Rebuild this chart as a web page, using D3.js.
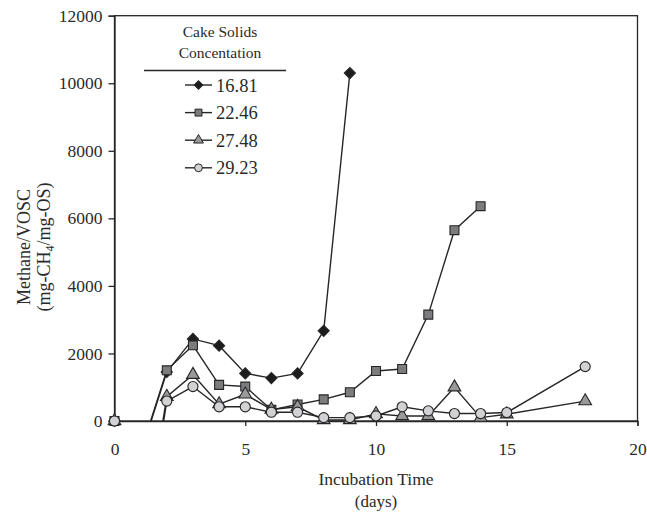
<!DOCTYPE html>
<html>
<head>
<meta charset="utf-8">
<script src="https://cdn.jsdelivr.net/npm/d3@7"></script>
<style>
  html, body { margin: 0; padding: 0; background: #fff; }
  svg { display: block; font-family: "Liberation Serif", "Times New Roman", serif; }
</style>
</head>
<body>
<svg id="chart" width="647" height="512"></svg>
<script>
// Incubation day of each measurement
const days = [0, 1, 2, 3, 4, 5, 6, 7, 8, 9, 10, 11, 12, 13, 14, 15, 18];

// Methane / VOSC (mg-CH4/mg-OS) for each cake solids concentration
// (day-1 readings are negative and fall below the plotted range)
const s1681 = [0, -970, 1450, 2430, 2230, 1410, 1270, 1410, 2670, 10300];
const s2246 = [0, -920, 1500, 2240, 1070, 1020, 330, 490, 640, 850, 1480, 1540, 3150, 5650, 6360];
const s2748 = [0, -4100, 720, 1370, 500, 790, 340, 420, 30, 30, 210, 150, 150, 1000, 100, 200, 590];
const s2923 = [0, -4350, 590, 1020, 420, 420, 260, 260, 100, 100, 150, 420, 300, 220, 220, 250, 1610];

const seriesNames = ["16.81", "22.46", "27.48", "29.23"];
const seriesValues = [s1681, s2246, s2748, s2923];
const seriesSymbols = [d3.symbolSquare, d3.symbolSquare, d3.symbolTriangle, d3.symbolCircle];
const seriesRotate = [45, 0, 0, 0];
const seriesFills = ["#1c1c1c", "#7c7c7e", "#9a9a9c", "#d2d2d4"];
const seriesSizes = [62, 80, 70, 80];

const xTicks = [0, 5, 10, 15, 20];
const yTicks = [0, 2000, 4000, 6000, 8000, 10000, 12000];

const legendTitle = ["Cake Solids", "Concentation"];

const svg = d3.select("#chart");
const margin = { left: 114.5, right: 647 - 637.5, top: 15.7, bottom: 512 - 421 };
const W = 647, H = 512;

const x = d3.scaleLinear().domain([0, 20]).range([margin.left, W - margin.right]);
const y = d3.scaleLinear().domain([0, 12000]).range([H - margin.bottom, margin.top]);

const ink = "#262626";
const textInk = "#2a2a2a";

// clip region for lines: the plot box
svg.append("defs").append("clipPath").attr("id", "plotClip")
  .append("rect")
  .attr("x", x(0)).attr("y", y(12000))
  .attr("width", x(20) - x(0)).attr("height", y(0) - y(12000));

// frame (top and right edges)
svg.append("rect")
  .attr("x", x(0)).attr("y", y(12000))
  .attr("width", x(20) - x(0)).attr("height", y(0) - y(12000))
  .attr("fill", "none").attr("stroke", ink).attr("stroke-width", 1.3);

// axes
const xAxis = svg.append("g")
  .attr("transform", `translate(0,${y(0)})`)
  .call(d3.axisBottom(x).tickValues(xTicks).tickSize(5).tickPadding(17).tickFormat(d3.format("d")));
const yAxis = svg.append("g")
  .attr("transform", `translate(${x(0)},0)`)
  .call(d3.axisLeft(y).tickValues(yTicks).tickSize(6).tickPadding(6).tickFormat(d3.format("d")));

[xAxis, yAxis].forEach(g => {
  g.select(".domain").attr("stroke", ink).attr("stroke-width", 1.3);
  g.selectAll(".tick line").attr("stroke", ink).attr("stroke-width", 1.3);
  g.selectAll(".tick text").attr("fill", textInk)
    .style("font-family", "Liberation Serif").style("font-size", "17.5px");
});

// axis titles
svg.append("text").attr("x", x(10)).attr("y", 485).attr("text-anchor", "middle")
  .attr("fill", textInk).style("font-size", "17.5px").text("Incubation Time");
svg.append("text").attr("x", x(10)).attr("y", 506.5).attr("text-anchor", "middle")
  .attr("fill", textInk).style("font-size", "17px").text("(days)");

const yt = svg.append("text").attr("transform", "translate(30,247) rotate(-90)")
  .attr("text-anchor", "middle").attr("fill", textInk).style("font-size", "18px");
yt.append("tspan").attr("x", 0).attr("y", 0).text("Methane/VOSC");
const yt2 = svg.append("text").attr("transform", "translate(50,247) rotate(-90)")
  .attr("text-anchor", "middle").attr("fill", textInk).style("font-size", "18px");
yt2.append("tspan").text("(mg-CH");
yt2.append("tspan").attr("dy", 4).style("font-size", "12px").text("4");
yt2.append("tspan").attr("dy", -4).text("/mg-OS)");

// series
const line = d3.line().x((d, i) => x(days[i])).y(d => y(d));

seriesValues.forEach((vals, k) => {
  const g = svg.append("g");
  g.append("path")
    .datum(vals)
    .attr("clip-path", "url(#plotClip)")
    .attr("d", line)
    .attr("fill", "none").attr("stroke", ink).attr("stroke-width", 1.4);

  const pts = vals.map((v, i) => ({ day: days[i], v })).filter(p => p.v >= 0);
  g.selectAll("path.pt").data(pts).join("path")
    .attr("class", "pt")
    .attr("transform", p => `translate(${x(p.day)},${y(p.v)}) rotate(${seriesRotate[k]})`)
    .attr("d", d3.symbol().type(seriesSymbols[k]).size(seriesSizes[k]))
    .attr("fill", seriesFills[k]).attr("stroke", ink).attr("stroke-width", 1.1);
});

// legend
const lg = svg.append("g");
legendTitle.forEach((t, i) => {
  lg.append("text").attr("x", 220).attr("y", 37 + i * 21).attr("text-anchor", "middle")
    .attr("fill", textInk).style("font-size", "15.5px").text(t);
});
lg.append("line").attr("x1", 144).attr("x2", 286).attr("y1", 70.5).attr("y2", 70.5)
  .attr("stroke", ink).attr("stroke-width", 1.4);

seriesNames.forEach((name, k) => {
  const cy = 85 + k * 27.6;
  lg.append("line").attr("x1", 185).attr("x2", 212).attr("y1", cy).attr("y2", cy)
    .attr("stroke", ink).attr("stroke-width", 1.4);
  lg.append("path").attr("transform", `translate(198.5,${cy}) rotate(${seriesRotate[k]})`)
    .attr("d", d3.symbol().type(seriesSymbols[k]).size(seriesSizes[k] * 0.6))
    .attr("fill", seriesFills[k]).attr("stroke", ink).attr("stroke-width", 1);
  lg.append("text").attr("x", 216).attr("y", cy + 6.5)
    .attr("fill", textInk).style("font-size", "18.5px").text(name);
});
</script>
</body>
</html>
